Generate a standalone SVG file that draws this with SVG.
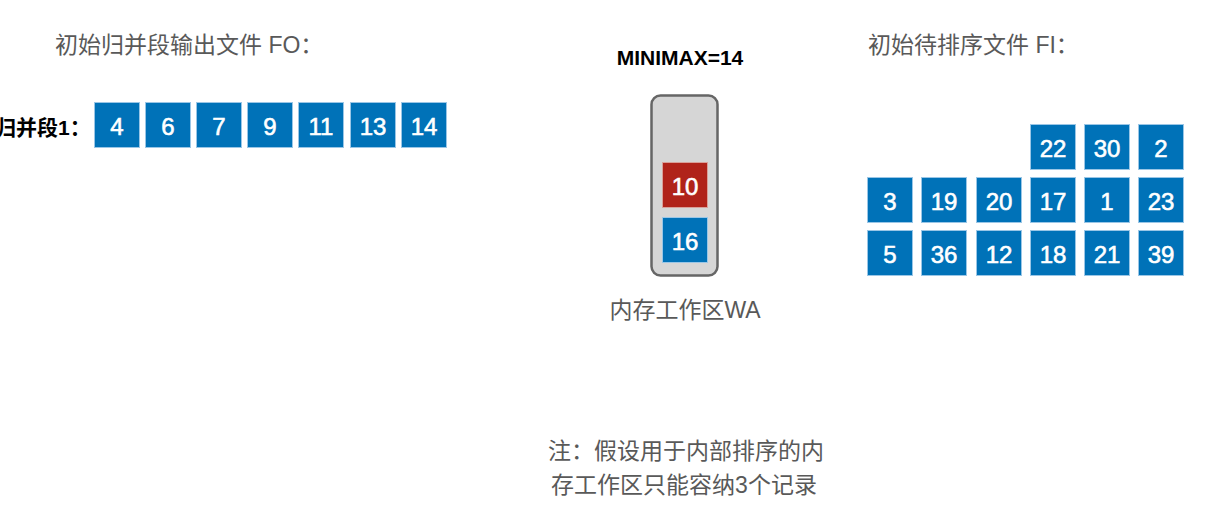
<svg xmlns="http://www.w3.org/2000/svg" width="1226" height="528" viewBox="0 0 1226 528">
<style>
.t{font-family:"Liberation Sans","Noto Sans CJK SC",sans-serif;font-size:23px;fill:#595959}
.b{fill:#0072b8;stroke:#9ac6e6;stroke-width:1}
.r{fill:#b0231a;stroke:#d9a09a;stroke-width:1}
.n{font-family:"Liberation Sans",Arial,sans-serif;font-size:24px;fill:#ffffff;stroke:#ffffff;stroke-width:0.6;text-anchor:middle}
.k{font-family:"Liberation Sans","Noto Sans CJK SC",sans-serif;font-weight:bold;fill:#000000}
</style>
<rect width="1226" height="528" fill="#ffffff"/>
<g id="fo">
<text class="t" x="55" y="53">初始归并段输出文件 FO：</text>
<text class="k" x="-5" y="135" font-size="21">归并段1：</text>
<g id="fo-boxes">
<rect class="b" x="94.5" y="102.5" width="45" height="45"/><text class="n" x="117" y="134.5">4</text>
<rect class="b" x="145.5" y="102.5" width="45" height="45"/><text class="n" x="168" y="134.5">6</text>
<rect class="b" x="196.5" y="102.5" width="45" height="45"/><text class="n" x="219" y="134.5">7</text>
<rect class="b" x="247.5" y="102.5" width="45" height="45"/><text class="n" x="270" y="134.5">9</text>
<rect class="b" x="298.5" y="102.5" width="45" height="45"/><text class="n" x="321" y="134.5">11</text>
<rect class="b" x="350.5" y="102.5" width="45" height="45"/><text class="n" x="373" y="134.5">13</text>
<rect class="b" x="401.5" y="102.5" width="45" height="45"/><text class="n" x="424" y="134.5">14</text>
</g>
</g>
<g id="wa">
<text class="k" x="680" y="65" font-size="21" text-anchor="middle">MINIMAX=14</text>
<rect x="651.5" y="95.5" width="66" height="180" rx="9" fill="#d6d6d6" stroke="#666666" stroke-width="2.5"/>
<rect class="r" x="662.5" y="162.5" width="45" height="45"/><text class="n" x="685" y="194.5">10</text>
<rect class="b" x="662.5" y="217.5" width="45" height="45"/><text class="n" x="685" y="249.5">16</text>
<text class="t" x="685" y="318" text-anchor="middle">内存工作区WA</text>
</g>
<g id="fi">
<text class="t" x="868" y="53">初始待排序文件 FI：</text>
<g id="fi-boxes">
<rect class="b" x="1030.5" y="124.5" width="45" height="45"/><text class="n" x="1053" y="156.5">22</text>
<rect class="b" x="1084.5" y="124.5" width="45" height="45"/><text class="n" x="1107" y="156.5">30</text>
<rect class="b" x="1138.5" y="124.5" width="45" height="45"/><text class="n" x="1161" y="156.5">2</text>
<rect class="b" x="867.5" y="177.5" width="45" height="45"/><text class="n" x="890" y="209.5">3</text>
<rect class="b" x="921.5" y="177.5" width="45" height="45"/><text class="n" x="944" y="209.5">19</text>
<rect class="b" x="976.5" y="177.5" width="45" height="45"/><text class="n" x="999" y="209.5">20</text>
<rect class="b" x="1030.5" y="177.5" width="45" height="45"/><text class="n" x="1053" y="209.5">17</text>
<rect class="b" x="1084.5" y="177.5" width="45" height="45"/><text class="n" x="1107" y="209.5">1</text>
<rect class="b" x="1138.5" y="177.5" width="45" height="45"/><text class="n" x="1161" y="209.5">23</text>
<rect class="b" x="867.5" y="230.5" width="45" height="45"/><text class="n" x="890" y="262.5">5</text>
<rect class="b" x="921.5" y="230.5" width="45" height="45"/><text class="n" x="944" y="262.5">36</text>
<rect class="b" x="976.5" y="230.5" width="45" height="45"/><text class="n" x="999" y="262.5">12</text>
<rect class="b" x="1030.5" y="230.5" width="45" height="45"/><text class="n" x="1053" y="262.5">18</text>
<rect class="b" x="1084.5" y="230.5" width="45" height="45"/><text class="n" x="1107" y="262.5">21</text>
<rect class="b" x="1138.5" y="230.5" width="45" height="45"/><text class="n" x="1161" y="262.5">39</text>
</g>
</g>
<g id="note">
<text class="t" x="686" y="459" text-anchor="middle">注：假设用于内部排序的内</text>
<text class="t" x="684" y="493" text-anchor="middle">存工作区只能容纳3个记录</text>
</g>
<g id="connectors"/>
</svg>
